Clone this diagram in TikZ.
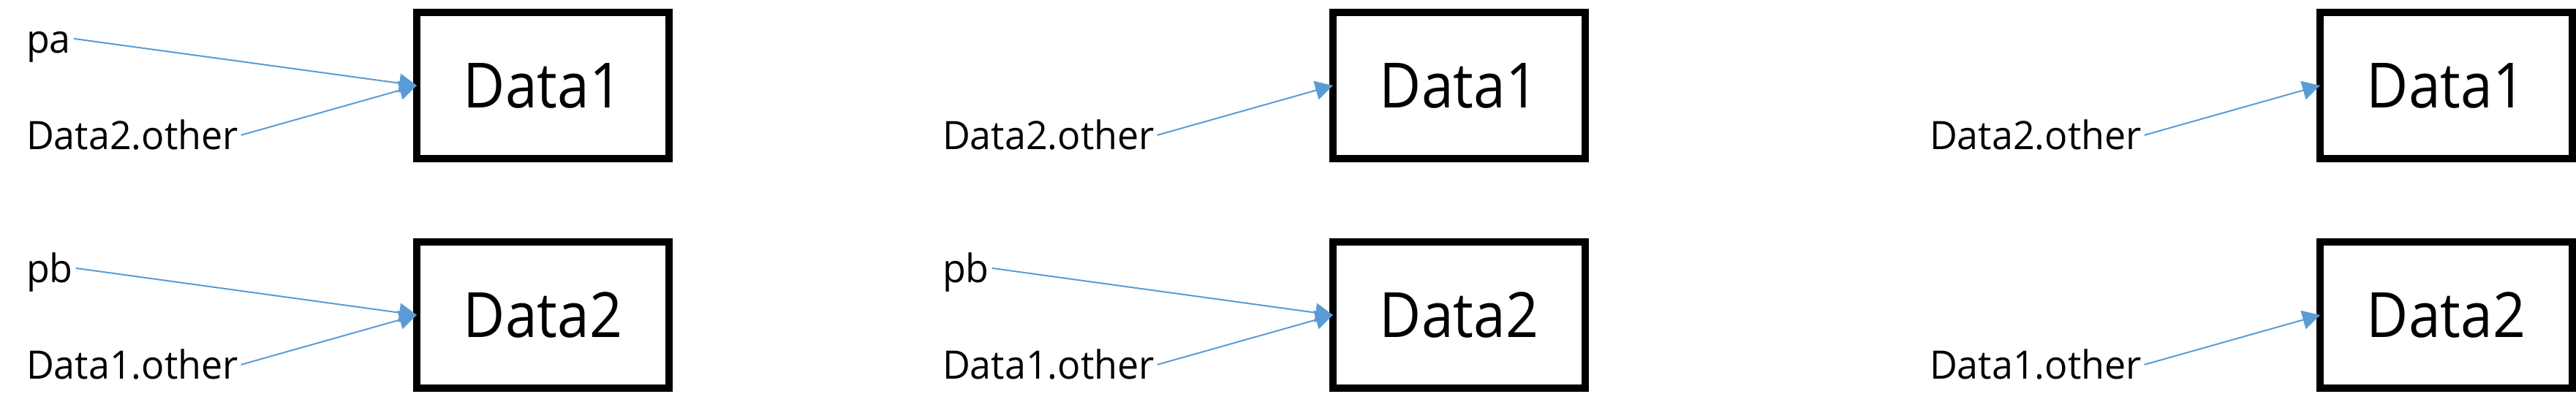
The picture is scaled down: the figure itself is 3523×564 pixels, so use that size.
\documentclass[tikz,border=0pt]{standalone}
\usepackage{fontspec}
\setmainfont{Open Sans}
\newfontfamily\lblfont{Open Sans}[FakeStretch=0.97]
\newfontfamily\boxfont{Open Sans}[FakeStretch=0.92]
\usetikzlibrary{arrows.meta}
\definecolor{arrowblue}{HTML}{5B9BD5}
\begin{document}
\begin{tikzpicture}[x=0.5pt,y=-0.5pt,
  databox/.style={draw=black, line width=5pt, minimum width=172.5pt, minimum height=100pt,
    inner sep=0pt, outer sep=0pt, font=\boxfont\fontsize{42.7pt}{50pt}\selectfont},
  src/.style={anchor=base west, inner sep=0pt, outer xsep=2pt, outer ysep=0pt,
    text height=19.15pt, text depth=0pt, font=\lblfont\fontsize{26.8pt}{32pt}\selectfont},
  link/.style={draw=arrowblue, line width=1pt, -{Triangle[length=12pt,width=13pt]}}]
\useasboundingbox (0,0) rectangle (3523,564);
% panel 1
\node[databox] (a1) at (742.5,117) {Data1};
\node[databox] (b1) at (742.5,431) {Data2};
\node[src] (pa1) at (32,72) {pa};
\node[src] (oa1) at (32,204) {Data2.other};
\node[src] (pb1) at (32,386) {pb};
\node[src] (ob1) at (32,518) {Data1.other};
\draw[link] (pa1.east) -- (a1.west);
\draw[link] (oa1.east) -- (a1.west);
\draw[link] (pb1.east) -- (b1.west);
\draw[link] (ob1.east) -- (b1.west);
% panel 2
\node[databox] (a2) at (1995.5,117) {Data1};
\node[databox] (b2) at (1995.5,431) {Data2};
\node[src] (oa2) at (1285,204) {Data2.other};
\node[src] (pb2) at (1285,386) {pb};
\node[src] (ob2) at (1285,518) {Data1.other};
\draw[link] (oa2.east) -- (a2.west);
\draw[link] (pb2.east) -- (b2.west);
\draw[link] (ob2.east) -- (b2.west);
% panel 3
\node[databox] (a3) at (3345.5,117) {Data1};
\node[databox] (b3) at (3345.5,431) {Data2};
\node[src] (oa3) at (2635,204) {Data2.other};
\node[src] (ob3) at (2635,518) {Data1.other};
\draw[link] (oa3.east) -- (a3.west);
\draw[link] (ob3.east) -- (b3.west);
\end{tikzpicture}
\end{document}
